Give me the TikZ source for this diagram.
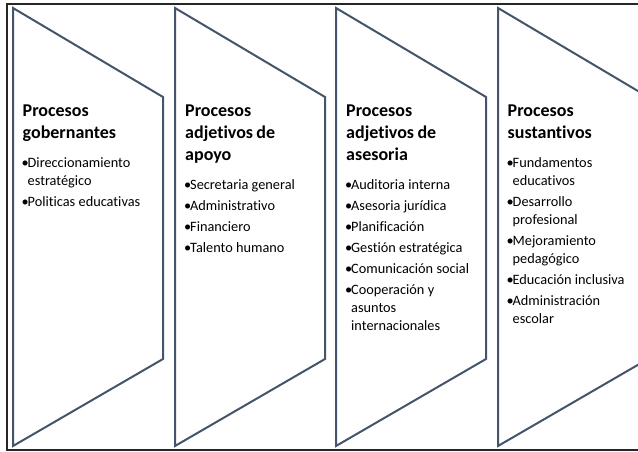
\documentclass[tikz,border=0pt]{standalone}
\usepackage{fontspec}
\setmainfont{Carlito}[Ligatures=NoCommon]

\definecolor{slate}{RGB}{68,84,106}
\newcommand\titfont{\fontsize{18}{22}\selectfont\bfseries}
\newcommand\itmfont{\fontsize{14.3}{18}\selectfont}
\newcommand\proc[1]{\par\hangindent=5pt\hangafter=1\noindent\makebox[5pt][c]{\textbullet}#1\par\vspace{3pt}}

\begin{document}
\begin{tikzpicture}[x=1pt,y=-1pt,
  chevron/.style={draw=slate,line width=2pt,line join=miter},
  procbox/.style={anchor=north west,inner sep=0pt,text width=140pt,align=left}]

  \useasboundingbox (0,0) rectangle (638,452);
  \clip (0,0) rectangle (638,452);
  \draw[black!85,line width=1.3pt] (7,4) rectangle (680,450);

  % the four chevrons
  \foreach \x in {13,175,336,498}
    \draw[chevron] (\x,8) -- ++(150,89) -- ++(0,262) -- ++(-150,87) -- cycle;

  \node[procbox] (gob) at (22.5,104.5) {{\titfont Procesos\newline gobernantes\par}\vspace{11.5pt}
    {\itmfont\proc{Direccionamiento\newline estratégico}\proc{Politicas educativas}}};

  \node[procbox] (apo) at (185,104.5) {{\titfont Procesos\newline adjetivos de\newline apoyo\par}\vspace{11.5pt}
    {\itmfont\proc{Secretaria general}\proc{Administrativo}\proc{Financiero}\proc{Talento humano}}};

  \node[procbox] (ase) at (346,104.5) {{\titfont Procesos\newline adjetivos de\newline asesoria\par}\vspace{11.5pt}
    {\itmfont\proc{Auditoria interna}\proc{Asesoria jurídica}\proc{Planificación}\proc{Gestión estratégica}%
     \proc{Comunicación social}\proc{Cooperación y\newline asuntos\newline internacionales}}};

  \node[procbox] (sus) at (507.5,104.5) {{\titfont Procesos\newline sustantivos\par}\vspace{11.5pt}
    {\itmfont\proc{Fundamentos\newline educativos}\proc{Desarrollo\newline profesional}\proc{Mejoramiento\newline pedagógico}%
     \proc{Educación inclusiva}\proc{Administración\newline escolar}}};

\end{tikzpicture}
\end{document}
